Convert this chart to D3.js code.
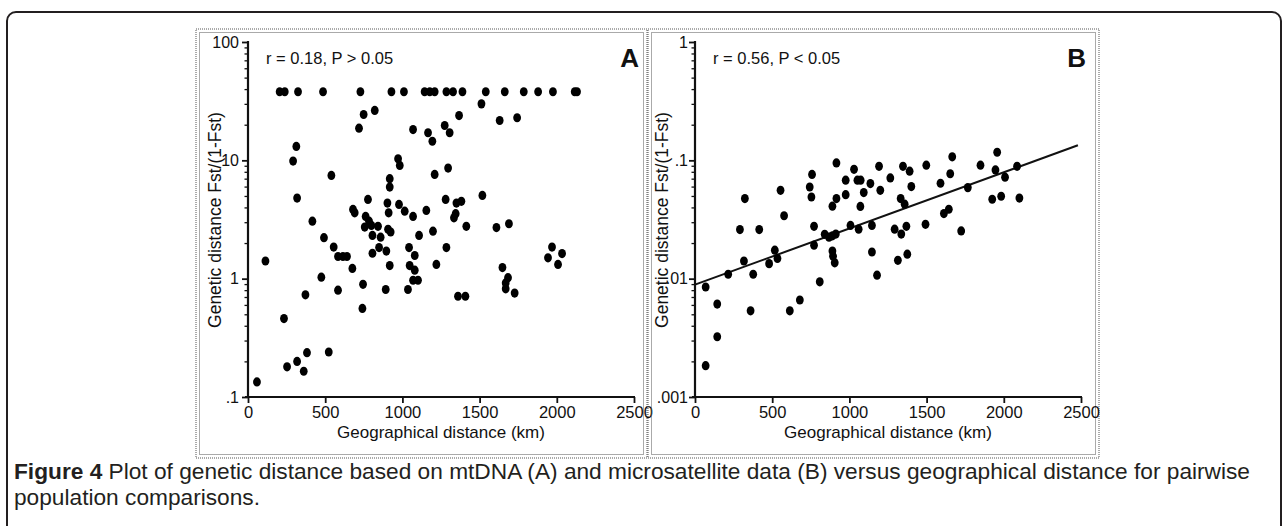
<!DOCTYPE html>
<html><head><meta charset="utf-8">
<script src="https://cdn.jsdelivr.net/npm/d3@7"></script>
<style>html,body{margin:0;padding:0;background:#fff;}svg{display:block;}</style>
</head><body>
<svg id="c" width="1287" height="526"></svg>
<script>
// ---------- data ----------
const xTicks = [0, 500, 1000, 1500, 2000, 2500];
const yTicksA = [0.1, 1, 10, 100];
const yLabelsA = [".1", "1", "10", "100"];
const yTicksB = [0.001, 0.01, 0.1, 1];
const yLabelsB = [".001", ".01", ".1", "1"];

// Panel A: mtDNA  (km, Fst/(1-Fst))
const distA = [205,238,324,486,728,929,1010,1144,1177,1209,1285,1328,1389,1540,1663,1786,1879,1975,2116,2131,
  1512,749,821,1367,1630,1743,719,1069,1166,1274,1306,1194,313,292,972,983,540,1209,1296,918,918,318,1518,777,1280,
  1350,1382,903,978,680,691,1015,1155,911,762,1069,784,1334,1345,417,1690,1609,1414,756,842,799,907,924,1198,806,859,
  492,1108,555,1285,849,1043,896,1969,2034,1943,2008,583,615,641,806,1080,113,676,918,1047,1080,1220,1648,475,1684,
  1669,1669,1727,1069,1101,745,583,892,1036,372,1360,1408,741,233,523,382,318,253,361,58];
const gdA = [38,38,38,38,38,38,38,38,38,38,38,38,38,38,38,38,38,38,38,38,
  30,24.4,26.4,23.9,21.7,22.9,18.7,18.2,17.1,19.7,17.1,14.5,13.1,9.85,10.3,9.06,7.45,7.6,8.6,7.0,5.94,4.8,5.05,4.67,4.67,
  4.35,4.5,4.35,4.24,3.85,3.6,3.72,3.77,3.6,3.36,3.36,3.06,3.27,3.54,3.06,2.91,2.70,2.77,2.73,2.77,2.82,2.61,2.48,2.52,2.32,2.24,
  2.22,2.32,1.85,1.83,1.83,1.83,1.71,1.85,1.63,1.50,1.32,1.54,1.54,1.54,1.64,1.57,1.41,1.22,1.29,1.29,1.18,1.32,1.24,1.03,1.02,
  0.92,0.82,0.755,0.97,0.97,0.895,0.80,0.81,0.81,0.73,0.71,0.71,0.56,0.46,0.24,0.237,0.20,0.18,0.165,0.134];

// Panel B: microsatellites
const distB = [1957,1666,916,1849,1498,1192,1347,2086,1030,1946,1390,758,1653,2008,1265,976,1052,1073,1136,1590,743,1401,
  554,1200,1767,976,1093,323,754,916,1332,1925,1983,2101,890,1071,1358,1644,1612,577,1724,291,416,1493,771,1007,1146,
  1060,1293,1369,1336,840,868,890,912,771,517,1146,890,894,317,480,534,1314,1375,905,215,377,1179,69,808,144,679,360,614,144,69];
const gdB = [0.117,0.107,0.095,0.091,0.091,0.089,0.089,0.089,0.084,0.083,0.081,0.076,0.077,0.072,0.071,0.068,0.068,0.068,0.0636,0.064,0.0595,0.060,
  0.0558,0.0558,0.0588,0.0513,0.0534,0.0475,0.049,0.0475,0.0475,0.0469,0.0497,0.048,0.041,0.0408,0.0426,0.0386,0.0355,0.034,0.0253,0.026,0.026,0.0288,0.0277,0.0282,0.0282,
  0.0262,0.0262,0.0277,0.0238,0.0237,0.0224,0.023,0.0238,0.0192,0.0174,0.0168,0.0171,0.0155,0.0141,0.0134,0.0148,0.0143,0.0161,0.0136,0.0109,0.0109,0.0107,0.0085,0.0094,0.0061,0.0066,0.00535,0.00535,0.00323,0.00184];
// regression line (panel B) endpoints
const fitX = [0, 2480];
const fitY = [0.0089, 0.134];

const statsA = "r = 0.18, P > 0.05";
const statsB = "r = 0.56, P < 0.05";
const xTitle = "Geographical distance (km)";
const yTitle = "Genetic distance Fst/(1-Fst)";
const capBold = "Figure 4";
const capLine1 = " Plot of genetic distance based on mtDNA (A) and microsatellite data (B) versus geographical distance for pairwise";
const capLine2 = "population comparisons.";

// ---------- drawing ----------
const FONT = "'Liberation Sans', Arial, sans-serif";
const svg = d3.select("#c");
svg.append("rect").attr("width",1287).attr("height",526).attr("fill","#fff");

// outer rounded frame
svg.append("rect").attr("x",7).attr("y",12).attr("width",1274).attr("height",540)
  .attr("rx",9).attr("fill","none").attr("stroke","#231f20").attr("stroke-width",2);

function panel(opt){
  const g = svg.append("g");
  // dotted double frame
  [0,3.5].forEach(d=>{
    g.append("rect").attr("x",opt.fx+d).attr("y",29+d).attr("width",opt.fw-2*d).attr("height",429-2*d)
     .attr("fill","none").attr("stroke","#555").attr("stroke-width",1).attr("stroke-dasharray","1,1");
  });
  const x = d3.scaleLinear().domain([0,2500]).range([opt.x0, opt.x0+386]);
  const y = d3.scaleLog().domain(opt.ydom).range([397,42]);

  // minor log ticks
  const minors = [];
  for (let k=0;k<opt.yt.length-1;k++) for (let m=2;m<=9;m++) minors.push(opt.yt[k]*m);
  g.append("g").attr("transform",`translate(${opt.x0},0)`)
    .call(d3.axisLeft(y).tickValues(minors).tickSize(3.5).tickFormat(""))
    .call(s=>{s.select(".domain").remove(); s.selectAll("line").attr("stroke","#111").attr("stroke-width",1.3);});
  // major y ticks
  g.append("g").attr("transform",`translate(${opt.x0},0)`)
    .call(d3.axisLeft(y).tickValues(opt.yt).tickSize(6).tickPadding(opt.pad).tickFormat((d,i)=>opt.yl[i]))
    .call(s=>{s.select(".domain").attr("stroke","#111").attr("stroke-width",2.2).attr("d",`M0,398V41`);
      s.selectAll("line").attr("stroke","#111").attr("stroke-width",1.8);
      s.selectAll("text").attr("fill","#111").style("font-family",FONT).style("font-size","16px");});
  // x axis
  g.append("g").attr("transform","translate(0,397)")
    .call(d3.axisBottom(x).tickValues(xTicks).tickSize(6).tickPadding(3).tickFormat(d3.format("d")))
    .call(s=>{s.select(".domain").attr("stroke","#111").attr("stroke-width",2.2).attr("d",`M${opt.x0-3},0H${opt.x0+387}`);
      s.selectAll("line").attr("stroke","#111").attr("stroke-width",1.8);
      s.selectAll("text").attr("fill","#111").style("font-family",FONT).style("font-size","16.5px");});

  // titles
  g.append("text").attr("x",opt.x0+193).attr("y",438).attr("text-anchor","middle")
    .style("font-family",FONT).style("font-size","17px").attr("fill","#111").text(xTitle);
  g.append("text").attr("transform",`translate(${opt.x0-27},220) rotate(-90)`).attr("text-anchor","middle")
    .style("font-family",FONT).style("font-size","17.5px").attr("fill","#111").text(yTitle);

  // stats + letter
  g.append("text").attr("x",opt.x0+18).attr("y",64)
    .style("font-family",FONT).style("font-size","16.5px").attr("fill","#111").text(opt.stats);
  g.append("text").attr("x",opt.x0+391).attr("y",67).attr("text-anchor","end")
    .style("font-family",FONT).style("font-size","26px").style("font-weight","bold").attr("fill","#111").text(opt.letter);

  // fit line
  if (opt.fit){
    g.append("line").attr("x1",x(fitX[0])).attr("y1",y(fitY[0])).attr("x2",x(fitX[1])).attr("y2",y(fitY[1]))
      .attr("stroke","#111").attr("stroke-width",2);
  }
  // points
  g.append("g").selectAll("ellipse").data(opt.xs).join("ellipse")
    .attr("cx",(d)=>x(d)).attr("cy",(d,i)=>y(opt.ys[i])).attr("rx",3.9).attr("ry",4.6).attr("fill","#000");
}

panel({fx:196, fw:451, x0:248, ydom:[0.1,100], yt:yTicksA, yl:yLabelsA, pad:3, stats:statsA, letter:"A", xs:distA, ys:gdA, fit:false});
panel({fx:648, fw:451, x0:695, ydom:[0.001,1], yt:yTicksB, yl:yLabelsB, pad:1, stats:statsB, letter:"B", xs:distB, ys:gdB, fit:true});

// caption (condensed look via textLength compression)
const capSize = "21.5px";
const t1 = svg.append("text").attr("x",14).attr("y",479).style("font-family",FONT).style("font-size",capSize).attr("fill","#231f20");
t1.append("tspan").style("font-weight","bold").text(capBold);
t1.append("tspan").text(capLine1);
const w1 = t1.node().getComputedTextLength();
const ratio = 1236 / w1;
t1.attr("textLength",1236).attr("lengthAdjust","spacingAndGlyphs");
const t2 = svg.append("text").attr("x",14).attr("y",505).style("font-family",FONT).style("font-size",capSize).attr("fill","#231f20").text(capLine2);
const w2 = t2.node().getComputedTextLength();
t2.attr("textLength",(w2*ratio).toFixed(1)).attr("lengthAdjust","spacingAndGlyphs");
</script>
</body></html>
